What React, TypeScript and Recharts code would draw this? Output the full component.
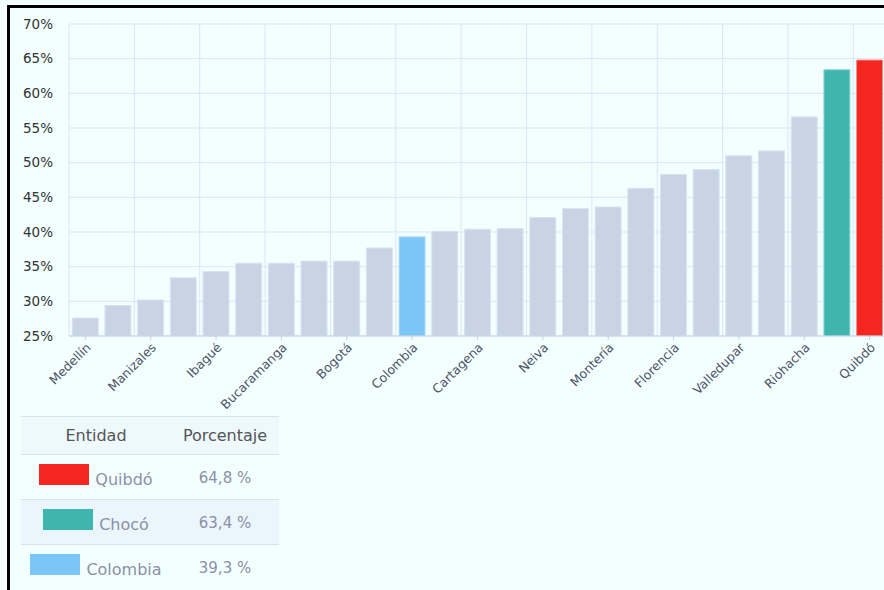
import React from 'react'
import {
  BarChart,
  Bar,
  Cell,
  XAxis,
  YAxis,
  CartesianGrid,
} from 'recharts'

// pobreza por ciudad (%)
const cities = [
  'Medellín', 'Tunja', 'Manizales', 'Pereira', 'Ibagué', 'Cali', 'Bucaramanga',
  'Armenia', 'Bogotá', 'Villavicencio', 'Colombia', 'Pasto', 'Cartagena', 'Cúcuta',
  'Neiva', 'Barranquilla', 'Montería', 'Popayán', 'Florencia', 'Sincelejo',
  'Valledupar', 'Santa Marta', 'Riohacha', 'Chocó', 'Quibdó',
]
const values = [
  27.6, 29.4, 30.2, 33.4, 34.3, 35.5, 35.5, 35.8, 35.8, 37.7, 39.3, 40.1, 40.4,
  40.5, 42.1, 43.4, 43.6, 46.3, 48.3, 49.0, 51.0, 51.7, 56.6, 63.4, 64.8,
]
const yTicks = [25, 30, 35, 40, 45, 50, 55, 60, 65, 70]
const highlighted = ['Quibdó', 'Chocó', 'Colombia']

const HIGHLIGHT_COLORS: Record<string, string> = {
  'Quibdó': '#f4261f',
  'Chocó': '#3fb5ae',
  'Colombia': '#7cc5f7',
}
const HIGHLIGHT_STROKES: Record<string, string> = {
  'Quibdó': '#f08a88',
  'Chocó': '#8fd6e0',
  'Colombia': '#b4dcf8',
}
const BASE_COLOR = '#c8d4e4'
const BASE_STROKE = '#d5e5f4'

const data = cities.map((name, i) => ({ name, value: values[i] }))

const legendRows = highlighted.map((name) => ({
  name,
  color: HIGHLIGHT_COLORS[name],
  label: values[cities.indexOf(name)].toFixed(1).replace('.', ',') + ' %',
}))

const pageBg = '#f2fffe'

const App = () => {
  return (
    <div
      style={{
        position: 'absolute',
        left: 0,
        top: 0,
        width: 884,
        height: 590,
        overflow: 'hidden',
        background: pageBg,
        fontFamily: '"DejaVu Sans", sans-serif',
      }}
    >
      <div
        style={{
          position: 'absolute',
          left: 7,
          top: 5,
          width: 900,
          height: 600,
          borderTop: '3px solid #000',
          borderLeft: '3px solid #000',
        }}
      />
      <div style={{ position: 'absolute', left: 0, top: 0 }}>
        <BarChart
          width={900}
          height={416}
          data={data}
          margin={{ top: 24, right: 14, bottom: 0, left: 10 }}
          barCategoryGap="10%"
        >
          <CartesianGrid
            stroke="#dce3fa"
            verticalCoordinatesGenerator={({ offset }: any) => {
              const band = offset.width / cities.length
              const pts: number[] = []
              for (let k = 0; k <= cities.length; k += 2) pts.push(offset.left + k * band)
              return pts
            }}
          />
          <XAxis
            dataKey="name"
            interval={1}
            height={80}
            tickSize={4}
            angle={-45}
            textAnchor="end"
            stroke="#c5d0e0"
            tick={{ fill: '#4e5266', fontSize: 12.5 }}
          />
          <YAxis
            width={59}
            domain={[25, 70]}
            ticks={yTicks}
            allowDataOverflow
            axisLine={false}
            tickLine={false}
            tickMargin={10}
            tickFormatter={(v: number) => `${v}%`}
            tick={{ fill: '#333', fontSize: 13.5 }}
          />
          <Bar dataKey="value" isAnimationActive={false} strokeWidth={1}>
            {data.map((d, idx) => (
              <Cell
                key={`cell-${idx}`}
                fill={HIGHLIGHT_COLORS[d.name] || BASE_COLOR}
                stroke={HIGHLIGHT_STROKES[d.name] || BASE_STROKE}
              />
            ))}
          </Bar>
        </BarChart>
      </div>
      <div
        style={{
          position: 'absolute',
          left: 21,
          top: 416,
          width: 258,
          borderTop: '1px solid #d6e2ec',
        }}
      >
        <div
          style={{
            display: 'flex',
            height: 37,
            background: '#eef9fb',
            borderBottom: '1px solid #d6e2ec',
            color: '#555',
            fontSize: 16,
            lineHeight: '20px',
          }}
        >
          <div style={{ width: 150, textAlign: 'center', paddingTop: 9 }}>Entidad</div>
          <div style={{ width: 108, textAlign: 'center', paddingTop: 9 }}>Porcentaje</div>
        </div>
        {legendRows.map((row, i) => (
          <div
            key={row.name}
            style={{
              display: 'flex',
              height: 44,
              background: i === 1 ? '#eaf6fb' : pageBg,
              borderBottom: i < legendRows.length - 1 ? '1px solid #d6e2ec' : 'none',
            }}
          >
            <div
              style={{
                width: 150,
                textAlign: 'center',
                paddingTop: 9,
                fontSize: 16,
                color: '#8d8fa6',
                whiteSpace: 'nowrap',
              }}
            >
              <span
                style={{
                  display: 'inline-block',
                  width: 50,
                  height: 21,
                  background: row.color,
                  marginRight: 6,
                }}
              />
              {row.name}
            </div>
            <div
              style={{
                width: 108,
                textAlign: 'center',
                paddingTop: 13,
                fontSize: 15,
                lineHeight: '20px',
                color: '#8d8fa6',
              }}
            >
              {row.label}
            </div>
          </div>
        ))}
      </div>
    </div>
  )
}

export default App
